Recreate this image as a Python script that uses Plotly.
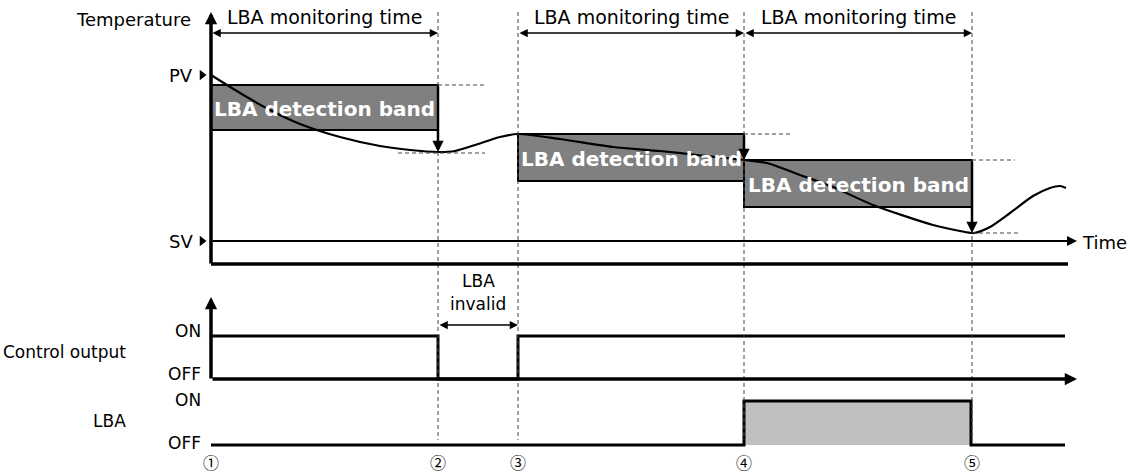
import plotly.graph_objects as go

# diagram coordinates: x = time position, y = vertical position (top = 0)
events_x = [211, 438, 518, 744, 972]
event_labels = ["①", "②", "③", "④", "⑤"]

pv_y = 75
sv_y = 241
temp_floor_y = 264

band_left = [211, 518, 744]
band_right = [438, 744, 972]
band_top = [85, 134, 160]
band_bottom = [130, 181, 207]
band_drop_to = [152, 160, 233]

curve_x = [211, 240, 270, 300, 340, 380, 410, 438, 455, 478, 500, 518,
           560, 613, 660, 697, 744, 767, 800, 833, 873, 933, 960, 974,
           990, 1010, 1033, 1050, 1060, 1066]
curve_y = [75, 93, 110, 124, 137, 146, 150, 152, 151, 144, 137, 134,
           139, 147, 151, 155, 160, 163, 175, 187, 205, 225, 231, 233,
           227, 213, 196, 188, 186, 188]

monitor_start = [211, 518, 744]
monitor_end = [438, 744, 972]

ctrl_on_y = 336
ctrl_off_y = 379
ctrl_x = [211, 438, 438, 518, 518, 1065]
ctrl_y = [ctrl_on_y, ctrl_on_y, ctrl_off_y, ctrl_off_y, ctrl_on_y, ctrl_on_y]

lba_on_y = 401
lba_off_y = 445
lba_x = [211, 744, 744, 971, 971, 1065]
lba_y = [lba_off_y, lba_off_y, lba_on_y, lba_on_y, lba_off_y, lba_off_y]

FONT = "DejaVu Sans"
fig = go.Figure()
shapes = []
ann = []

# dashed event guides
for x in events_x[1:]:
    shapes.append(dict(type="line", x0=x, x1=x, y0=12, y1=440,
                       line=dict(color="#444444", width=1, dash="4px,3px")))

# short dashed level marks
for (x0, x1, y) in [(438, 485, 85), (398, 485, 153), (744, 790, 134),
                    (972, 1015, 160), (972, 1020, 233)]:
    shapes.append(dict(type="line", x0=x0, x1=x1, y0=y, y1=y,
                       line=dict(color="#444444", width=1, dash="4px,3px")))

# detection bands
for l, r, t, b in zip(band_left, band_right, band_top, band_bottom):
    shapes.append(dict(type="rect", x0=l, x1=r, y0=t, y1=b, layer="below",
                       fillcolor="#808080", line=dict(color="black", width=2)))
    ann.append(dict(x=(l + r) / 2, y=(t + b) / 2 + 1, text="<b>LBA detection band</b>",
                    showarrow=False, font=dict(family=FONT, size=20, color="white")))

# LBA on rectangle fill
shapes.append(dict(type="rect", x0=744, x1=971, y0=lba_on_y, y1=lba_off_y,
                   layer="below", fillcolor="#c0c0c0", line=dict(width=0)))

# temperature panel floor
shapes.append(dict(type="line", x0=211, x1=1068, y0=temp_floor_y, y1=temp_floor_y,
                   line=dict(color="black", width=3.5)))


def arrow(x, y, ax, ay, width, size, both=False):
    ann.append(dict(x=x, y=y, ax=ax, ay=ay, xref="x", yref="y", axref="x", ayref="y",
                    text="", showarrow=True, arrowhead=2, arrowsize=size,
                    arrowwidth=width, arrowcolor="black",
                    arrowside="end+start" if both else "end"))


arrow(211, 12, 211, temp_floor_y + 1, 3.5, 0.7)
arrow(211, 297, 211, ctrl_off_y + 1, 3.5, 0.7)
arrow(1077, ctrl_off_y, 211, ctrl_off_y, 3.5, 0.7)
arrow(1077, sv_y, 211, sv_y, 2, 1.0)

for s, e in zip(monitor_start, monitor_end):
    arrow(e, 33, s, 33, 1.5, 1.1, both=True)
    ann.append(dict(x=(s + e) / 2, y=17, text="LBA monitoring time", showarrow=False,
                    font=dict(family=FONT, size=19, color="black")))

arrow(518, 325, 438, 325, 1.5, 1.1, both=True)

# drop arrows inside bands
for x, t, d in zip(band_right, band_top, band_drop_to):
    arrow(x, d, x, t, 2.5, 0.9)

# temperature curve
fig.add_trace(go.Scatter(x=curve_x, y=curve_y, mode="lines",
                         line=dict(color="black", width=2.2, shape="spline", smoothing=0.7),
                         hoverinfo="skip"))

# control output signal
fig.add_trace(go.Scatter(x=ctrl_x, y=ctrl_y, mode="lines",
                         line=dict(color="black", width=3), hoverinfo="skip"))

# LBA signal
fig.add_trace(go.Scatter(x=lba_x, y=lba_y, mode="lines",
                         line=dict(color="black", width=3), hoverinfo="skip"))

# PV / SV pointer triangles
fig.add_trace(go.Scatter(x=[202, 202], y=[pv_y, sv_y], mode="markers",
                         marker=dict(symbol="triangle-right", size=9, color="black"),
                         hoverinfo="skip"))


def label(x, y, text, anchor="right", size=18):
    ann.append(dict(x=x, y=y, text=text, showarrow=False, xanchor=anchor,
                    font=dict(family=FONT, size=size, color="black")))


label(193, 19, "Temperature")
label(195, pv_y, "PV")
label(195, sv_y, "SV")
label(1080, sv_y + 1, "Time", anchor="left")
label(203, 331, "ON", size=17)
label(203, 374, "OFF", size=17)
label(203, 400, "ON", size=17)
label(203, 443, "OFF", size=17)
label(128, 352, "Control output", size=17)
label(128, 421, "LBA", size=17)
ann.append(dict(x=478, y=281, text="LBA", showarrow=False,
                font=dict(family=FONT, size=17, color="black")))
ann.append(dict(x=478, y=304, text="invalid", showarrow=False,
                font=dict(family=FONT, size=17, color="black")))

for x, t in zip(events_x, event_labels):
    ann.append(dict(x=x, y=0, yref="paper", yanchor="bottom", text=t,
                    showarrow=False, borderpad=0,
                    font=dict(family="Noto Sans CJK KR", size=16, color="black")))

fig.update_layout(
    width=1130, height=475,
    margin=dict(l=0, r=0, t=0, b=0),
    paper_bgcolor="white", plot_bgcolor="white",
    showlegend=False,
    shapes=shapes, annotations=ann,
    xaxis=dict(range=[0, 1130], visible=False, fixedrange=True),
    yaxis=dict(range=[475, 0], visible=False, fixedrange=True),
)

fig.write_html("out.html", config={"displayModeBar": False},
               post_script="document.body.style.margin='0';document.body.style.overflow='hidden';")
